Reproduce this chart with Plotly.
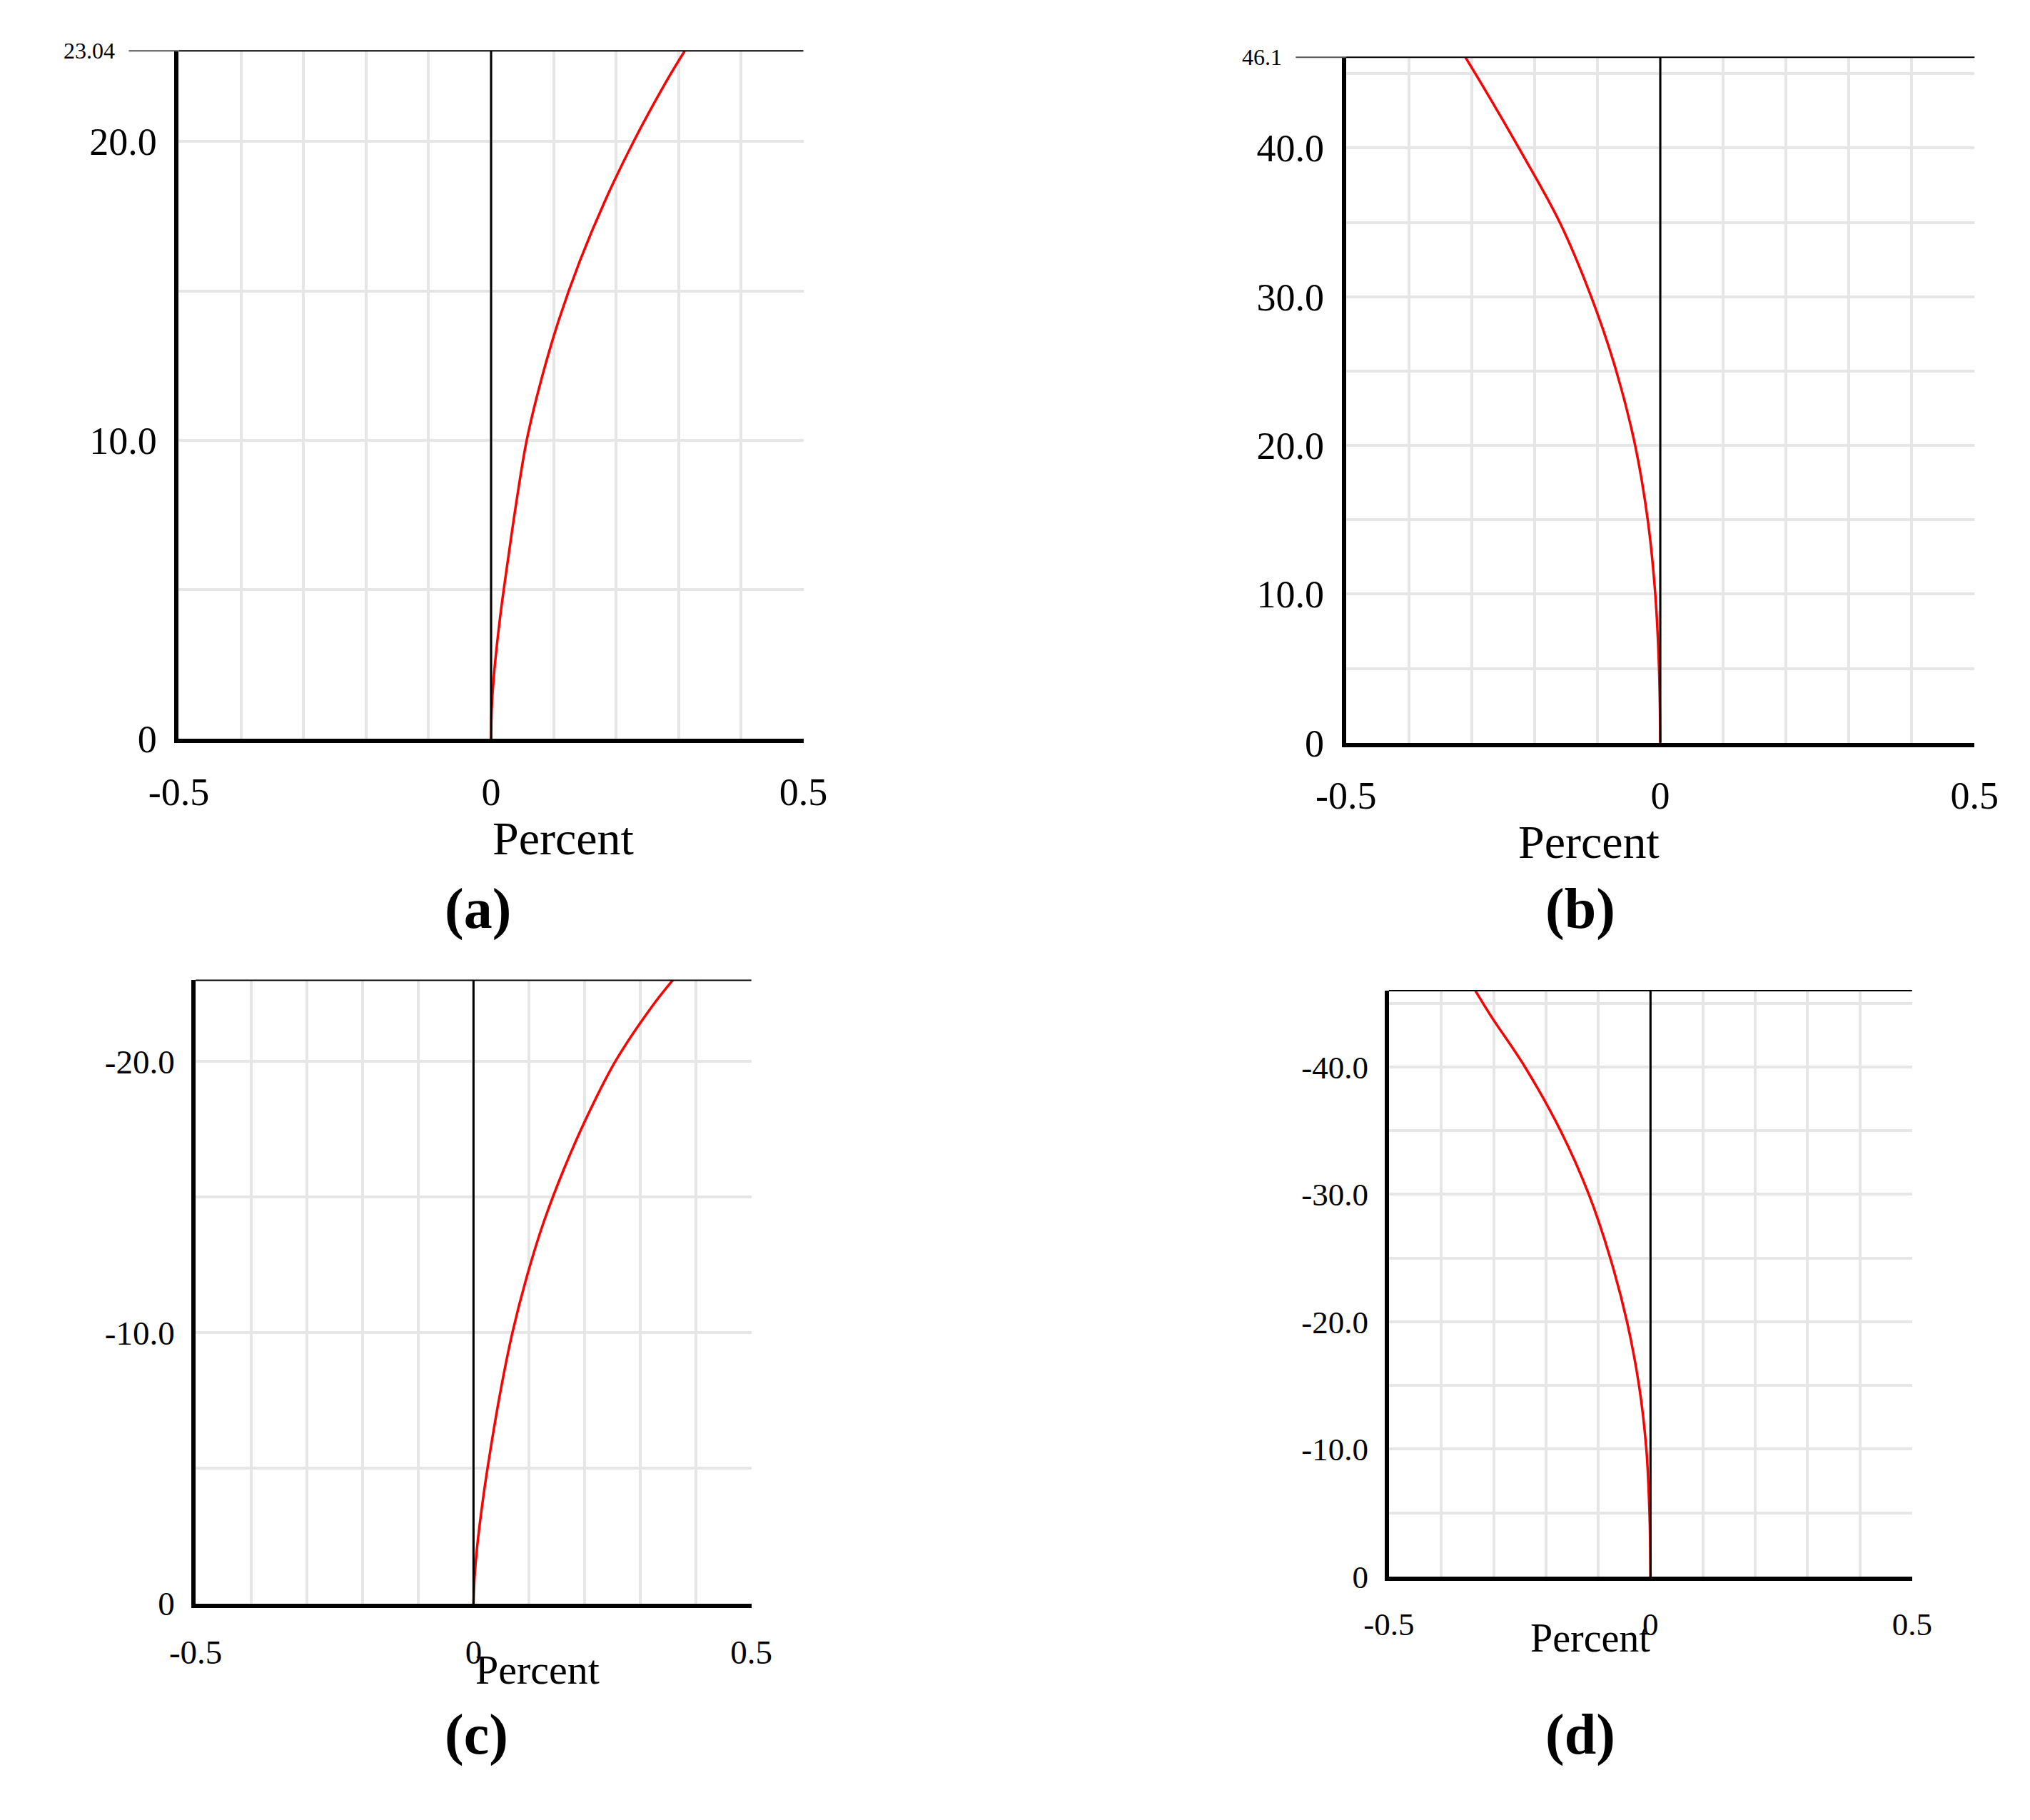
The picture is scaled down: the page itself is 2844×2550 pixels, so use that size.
import plotly.graph_objects as go

# data
ya = [0, 1, 2, 4, 6, 8, 10, 12, 14, 16, 18, 20, 22, 23.04]
xa = [0, 0.001, 0.004, 0.014, 0.027, 0.041, 0.057, 0.08, 0.108, 0.142, 0.182, 0.228, 0.28, 0.31]
yb = [0, 5, 10, 15, 20, 25, 30, 35, 40, 44, 46.1]
xb = [0, -0.002, -0.008, -0.02, -0.04, -0.07, -0.11, -0.16, -0.225, -0.28, -0.31]
yc = [0, -1, -2, -4, -6, -8, -10, -12, -14, -16, -18, -20, -22, -23.04]
xc = [0, 0.002, 0.006, 0.018, 0.033, 0.05, 0.07, 0.095, 0.125, 0.162, 0.205, 0.255, 0.32, 0.36]
yd = [0, -5, -10, -15, -20, -25, -30, -35, -40, -44, -46]
xd = [0, -0.002, -0.008, -0.022, -0.045, -0.077, -0.118, -0.172, -0.24, -0.305, -0.335]

W, H = 2844, 2550
sx, sy = W / 1560, H / 1410
FONT = "Liberation Serif"

panels = [
    dict(x=xa, y=ya, box=(133, 613, 35, 568), yr=[0, 23.04], tv=[0, 10, 20], tt=["0", "10.0", "20.0"], top="23.04", lab="(a)", labxy=(336, 700), ptxt=(373, 645), fs=1.0),
    dict(x=xb, y=yb, box=(1030, 1513, 40, 571), yr=[0, 46.1], tv=[0, 10, 20, 30, 40], tt=["0", "10.0", "20.0", "30.0", "40.0"], top="46.1", lab="(b)", labxy=(1238, 700), ptxt=(1272, 648), fs=1.0),
    dict(x=xc, y=yc, box=(146, 573, 755, 1238), yr=[0, -23], tv=[0, -10, -20], tt=["0", "-10.0", "-20.0"], top=None, lab="(c)", labxy=(336, 1365), ptxt=(360, 1308), fs=0.88),
    dict(x=xd, y=yd, box=(1063, 1465, 763, 1217), yr=[0, -46], tv=[0, -10, -20, -30, -40], tt=["0", "-10.0", "-20.0", "-30.0", "-40.0"], top=None, lab="(d)", labxy=(1238, 1365), ptxt=(1265, 1283), fs=0.85),
]

fig = go.Figure()
layout = dict(width=W, height=H, paper_bgcolor="white", plot_bgcolor="white",
              margin=dict(l=0, r=0, t=0, b=0), showlegend=False)
shapes, anns = [], []
for i, p in enumerate(panels, 1):
    x0, x1, y0, y1 = p["box"]
    xd_ = [x0 * sx / W, x1 * sx / W]
    yd_ = [1 - y1 * sy / H, 1 - y0 * sy / H]
    xn = "x" if i == 1 else f"x{i}"
    yn = "y" if i == 1 else f"y{i}"
    fig.add_trace(go.Scatter(x=p["x"], y=p["y"], mode="lines", line=dict(color="red", width=3.5, shape="spline"), xaxis=xn, yaxis=yn))
    tf = int(54 * p["fs"])
    layout["xaxis" if i == 1 else f"xaxis{i}"] = dict(
        domain=xd_, range=[-0.5, 0.5], anchor=yn, tickvals=[-0.5, 0, 0.5], ticktext=["-0.5", "0", "0.5"],
        showgrid=False, automargin=False,
        minor=dict(dtick=0.1, tick0=0, showgrid=True, gridcolor="#e6e6e6", gridwidth=4),
        showline=True, linecolor="black", linewidth=6, zeroline=False, ticks="", ticklabelstandoff=22,
        tickfont=dict(family=FONT, size=tf, color="black"), fixedrange=True)
    layout["yaxis" if i == 1 else f"yaxis{i}"] = dict(
        domain=yd_, range=p["yr"], anchor=xn, tickvals=p["tv"], ticktext=p["tt"],
        showgrid=True, gridcolor="#e6e6e6", gridwidth=4, automargin=False,
        minor=dict(dtick=5, showgrid=True, gridcolor="#e6e6e6", gridwidth=4),
        showline=True, linecolor="black", linewidth=6, zeroline=False, ticks="", ticklabelstandoff=14,
        tickfont=dict(family=FONT, size=tf, color="black"), fixedrange=True)
    xr = "x domain" if i == 1 else f"x{i} domain"
    yr = "y domain" if i == 1 else f"y{i} domain"
    shapes.append(dict(type="line", xref=xn, yref=yr, x0=0, x1=0, y0=0, y1=1, line=dict(color="black", width=3)))
    shapes.append(dict(type="line", xref=xr, yref=yr, x0=0, x1=1, y0=1, y1=1, line=dict(color="black", width=2)))
    if p["top"]:
        shapes.append(dict(type="line", xref=xr, yref=yr, x0=-0.08, x1=0, y0=1, y1=1, line=dict(color="#555", width=2)))
        anns.append(dict(text=p["top"], xref=xr, yref=yr, x=-0.1, y=1, xanchor="right", yanchor="middle",
                         showarrow=False, font=dict(family=FONT, size=32, color="black")))
    anns.append(dict(text="Percent", xref="paper", yref="paper", x=p["ptxt"][0] * sx / W, y=1 - p["ptxt"][1] * sy / H,
                     showarrow=False, font=dict(family=FONT, size=int(66 * p["fs"]), color="black")))
    anns.append(dict(text="<b>" + p["lab"] + "</b>", xref="paper", yref="paper", x=p["labxy"][0] * sx / W, y=1 - p["labxy"][1] * sy / H,
                     showarrow=False, font=dict(family=FONT, size=80, color="black")))
layout["shapes"] = shapes
layout["annotations"] = anns
fig.update_layout(**layout)
fig.write_html("out.html")
